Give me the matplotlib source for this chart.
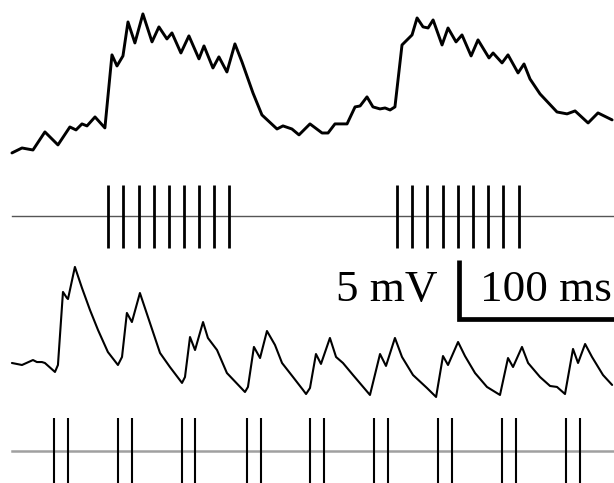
import matplotlib
matplotlib.use('Agg')
import matplotlib.pyplot as plt
import numpy as np

# ------------------------------------------------------------
# Data (time in ms, voltage in mV relative to trace start)
# ------------------------------------------------------------
# top trace: bursting response
top_t = [0, 6.4, 13.4, 21.0, 29.3, 36.9, 40.8, 44.6, 47.8, 52.9, 59.2,
         63.7, 66.9, 70.7, 73.9, 78.3, 83.4, 89.2, 93.6, 98.7, 101.9,
         107.6, 112.7, 119.1, 122.3, 128.0, 131.8, 136.9, 142.0, 146.5,
         153.5, 159.2, 168.8, 172.6, 178.3, 182.8, 189.8, 197.5, 201.3,
         205.7, 213.4, 218.5, 221.7, 226.1, 229.9, 234.4, 237.6, 240.8,
         243.9, 248.4, 254.8, 258.0, 261.8, 265.0, 268.2, 273.9, 277.7,
         282.8, 286.6, 292.4, 296.8, 303.8, 306.4, 312.1, 315.9, 322.3,
         326.1, 329.9, 336.3, 347.1, 353.5, 358.6, 366.9, 373.2, 382.2]
top_v = [0, 0.42, 0.25, 1.78, 0.68, 2.20, 1.95, 2.46, 2.29, 3.05, 2.12,
         8.31, 7.37, 8.22, 11.10, 9.32, 11.78, 9.41, 10.68, 9.66, 10.17,
         8.47, 9.92, 7.97, 9.07, 7.20, 8.14, 6.86, 9.24, 7.71,
         5.08, 3.22, 2.03, 2.29, 2.03, 1.53, 2.46, 1.69, 1.69,
         2.46, 2.46, 3.90, 3.98, 4.75, 3.90, 3.73, 3.81, 3.64,
         3.90, 9.15, 10.00, 11.44, 10.68, 10.59, 11.27, 9.15, 10.59,
         9.41, 10.00, 8.22, 9.58, 8.05, 8.47, 7.63, 8.31, 6.78,
         7.54, 6.27, 5.00, 3.47, 3.31, 3.56, 2.54, 3.39, 2.80]

# spikes of the top trace (two bursts of nine)
top_spikes = [61.3, 70.9, 80.7, 90.4, 100.2, 109.7, 119.3, 128.9, 138.4,
              245.4, 255.0, 264.5, 274.3, 283.9, 293.6, 303.4, 312.9, 322.7]

# bottom trace: paired EPSPs
bot_t = [0, 6.4, 13.4, 15.9, 19.1, 21.0, 27.4, 29.3, 32.5, 35.0, 35.7,
         40.1, 44.6, 49.7, 54.8, 61.1, 67.5, 70.1, 73.2, 76.4, 81.5,
         87.9, 94.3, 100.6, 108.3, 110.2, 113.4, 116.6, 121.7, 124.8,
         130.6, 136.9, 148.4, 150.3, 154.1, 158.0, 162.4, 167.5, 172.0,
         179.0, 185.4, 187.3, 189.8, 193.6, 196.8, 202.5, 206.4, 210.8,
         217.2, 228.0, 234.4, 238.2, 243.9, 248.4, 255.4, 264.3, 270.1,
         274.5, 277.7, 284.1, 288.5, 294.9, 302.5, 310.8, 315.9, 319.1,
         324.8, 328.7, 336.3, 342.7, 347.1, 352.2, 357.3, 360.5, 365.0,
         369.4, 376.4, 382.2]
bot_v = [0, -0.17, 0.25, 0.08, 0.08, 0, -0.76, -0.17, 6.02, 5.51, 5.42,
         8.14, 6.36, 4.49, 2.80, 0.93, -0.17, 0.51, 4.24, 3.47, 5.93,
         3.39, 0.85, -0.34, -1.69, -1.19, 2.20, 1.10, 3.47, 2.12,
         1.10, -0.85, -2.46, -2.03, 1.36, 0.42, 2.71, 1.53, 0,
         -1.19, -2.29, -2.63, -2.12, 0.76, -0.08, 2.12, 0.51, 0,
         -1.02, -2.71, 0.76, -0.25, 2.12, 0.51, -1.02, -2.12, -2.88,
         0.59, -0.17, 1.78, 0.59, -0.85, -2.03, -2.71, 0.42, -0.34,
         1.36, 0, -1.19, -1.95, -2.03, -2.63, 1.19, 0, 1.61,
         0.51, -1.02, -1.86]

# spikes of the bottom trace (doublets)
bot_spikes = [26.8, 35.5, 67.7, 76.4, 108.1, 116.8, 149.6, 158.3,
              189.7, 198.5, 230.6, 239.4, 271.2, 280.0, 312.1, 320.8,
              352.9, 361.5]

# scale bar sizes
bar_ms = 100
bar_mv = 5

# ------------------------------------------------------------
# Figure: one axes, x in ms, y in mV (rows stacked with offsets)
# ------------------------------------------------------------
fig = plt.figure(figsize=(6.14, 4.83), dpi=100)
ax = fig.add_axes([0, 0, 1, 1])
ax.set_xlim(-7.6, 383.4)
ax.set_ylim(0, 40.93)
ax.axis('off')

top_off = 27.97
r1_off = 22.65
bot_off = 10.17
r2_off = 2.74

ax.plot(top_t, np.array(top_v) + top_off, color='black', lw=2.1,
        solid_joinstyle='round', solid_capstyle='round')
ax.plot(bot_t, np.array(bot_v) + bot_off, color='black', lw=1.5,
        solid_joinstyle='round', solid_capstyle='round')

# raster 1
ax.plot([0, 384], [r1_off, r1_off], color='#555555', lw=1.0)
ax.vlines(top_spikes, r1_off - 2.7, r1_off + 2.6, color='black', lw=2.0)

# raster 2
ax.plot([0, 384], [r2_off, r2_off], color='#a0a0a0', lw=1.8)
ax.vlines(bot_spikes, r2_off - 2.9, r2_off + 2.74, color='black', lw=1.5)

# scale bar
bx, by = 284.4, 13.86
ax.plot([bx, bx, bx + bar_ms], [by + bar_mv, by, by], color='black',
        lw=3.4, solid_joinstyle='miter', solid_capstyle='butt')
ax.text(270.7, 15.42, f'{bar_mv} mV', fontsize=32.5, family='Liberation Serif',
        ha='right', va='baseline')
ax.text(298.1, 15.42, f'{bar_ms} ms', fontsize=32.5, family='Liberation Serif',
        ha='left', va='baseline')

plt.savefig('out.png', dpi=100)
